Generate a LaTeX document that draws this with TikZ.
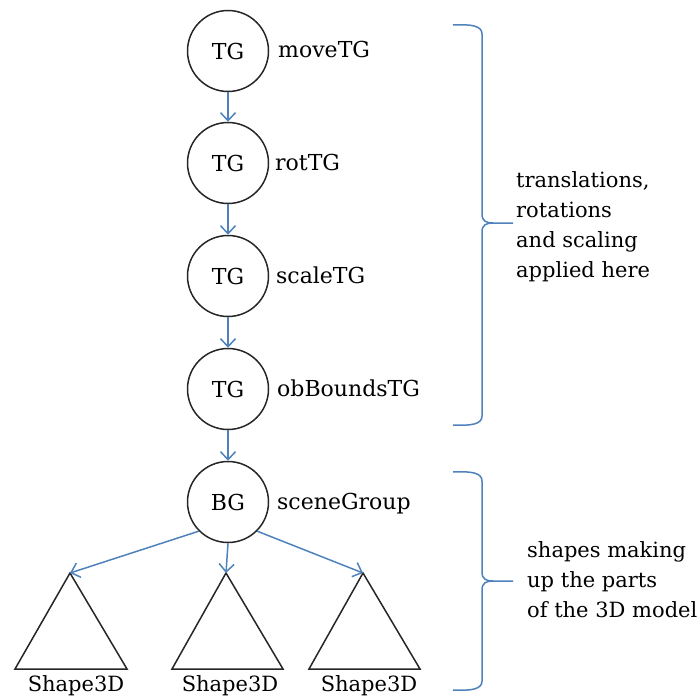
\documentclass[tikz,border=0pt]{standalone}
\usepackage{fontspec}
\setmainfont{DejaVu Serif}
\usetikzlibrary{arrows.meta}
\definecolor{linkblue}{RGB}{79,129,189}
\begin{document}
\begin{tikzpicture}[x=1pt,y=-1pt,
  grp/.style={circle,draw=black!85,line width=1.5pt,minimum size=81pt,inner sep=0pt,
              font=\fontsize{22}{26}\selectfont},
  lbl/.style={anchor=base west,inner sep=0pt,font=\fontsize{22}{26}\selectfont},
  shapelbl/.style={anchor=base,inner sep=0pt,font=\fontsize{21}{26}\selectfont},
  link/.style={draw=linkblue,line width=1.5pt,-{Straight Barb[length=8pt,width=15pt]}},
  brace/.style={draw=linkblue,line width=1.5pt},
  note/.style={anchor=west,align=left,inner sep=0pt,font=\fontsize{21}{30}\selectfont},
  tri/.style={draw=black!85,line width=1.5pt,line join=miter}]
\useasboundingbox (0,0) rectangle (700,698);

% transform group chain
\node[grp] (tg1) at (228,51)  {TG};
\node[grp] (tg2) at (228,163) {TG};
\node[grp] (tg3) at (228,276) {TG};
\node[grp] (tg4) at (228,389) {TG};
\node[grp] (bg)  at (228,502) {BG};

\node[lbl] (l1) at (278,58)  {moveTG};
\node[lbl] (l2) at (275,170) {rotTG};
\node[lbl] (l3) at (276,283) {scaleTG};
\node[lbl] (l4) at (277,396) {obBoundsTG};
\node[lbl] (l5) at (277,509) {sceneGroup};

\draw[link] (tg1) -- (tg2);
\draw[link] (tg2) -- (tg3);
\draw[link] (tg3) -- (tg4);
\draw[link] (tg4) -- (bg);

% leaf shapes
\coordinate (a1) at (70,573);
\coordinate (a2) at (226,573);
\coordinate (a3) at (363,573);
\draw[tri] (a1) -- (127,669) -- (15,669) -- cycle;
\draw[tri] (a2) -- (283,669) -- (172,669) -- cycle;
\draw[tri] (a3) -- (420,669) -- (309,669) -- cycle;

\node[shapelbl] (s1) at (76,691)  {Shape3D};
\node[shapelbl] (s2) at (230,691) {Shape3D};
\node[shapelbl] (s3) at (369,691) {Shape3D};

\draw[link] (bg.225) -- (a1);
\draw[link] (bg.south) -- (a2);
\draw[link] (bg.-45) -- (a3);

% braces
\draw[brace] (453,25) .. controls (472,24) and (482,26) .. (482,34) -- (482,214)
  .. controls (482,221) and (486,223) .. (493,223) -- (513,223);
\draw[brace] (493,223) .. controls (486,223) and (482,225) .. (482,232) -- (482,416)
  .. controls (482,424) and (472,426) .. (453,425);

\draw[brace] (453,472) .. controls (472,471) and (482,473) .. (482,481) -- (482,572)
  .. controls (482,579) and (486,581) .. (493,581) -- (513,581);
\draw[brace] (493,581) .. controls (486,581) and (482,583) .. (482,590) -- (482,681)
  .. controls (482,689) and (472,691) .. (453,690);

\node[note] (n1) at (516,227) {translations,\\rotations\\and scaling\\applied here};
\node[note] (n2) at (527,580) {shapes making\\up the parts\\of the 3D model};
\end{tikzpicture}
\end{document}
